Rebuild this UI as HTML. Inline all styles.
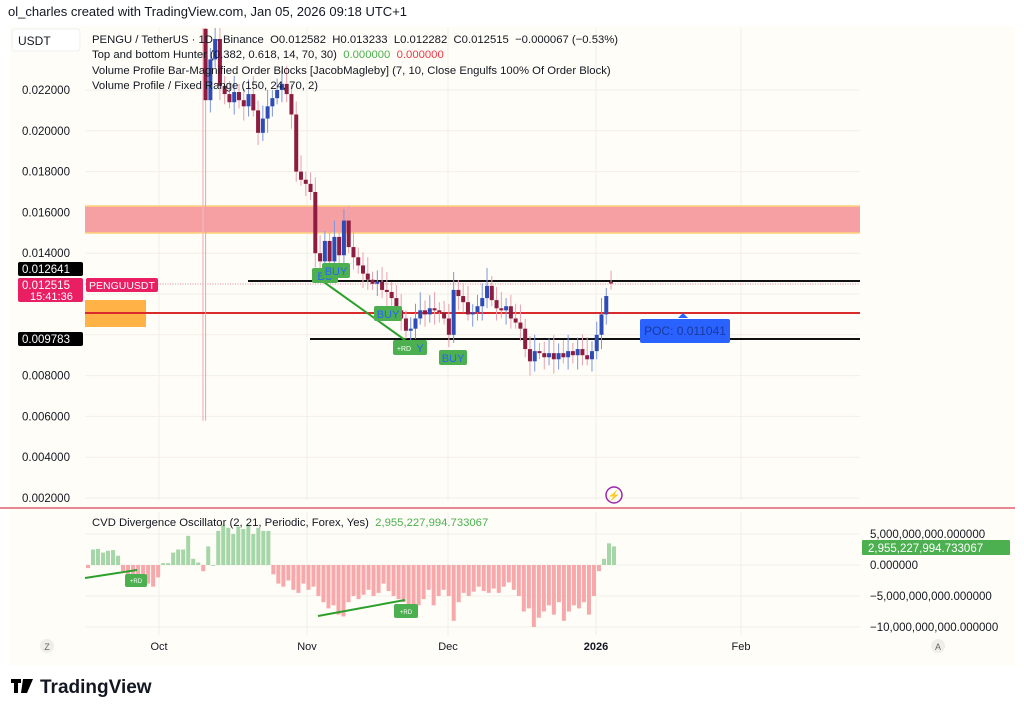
<!DOCTYPE html>
<html><head><meta charset="utf-8">
<style>
html,body{margin:0;padding:0;background:#fff;width:1024px;height:713px;overflow:hidden;font-family:"Liberation Sans",sans-serif;}
svg{position:absolute;left:0;top:0}
svg text{white-space:pre}
</style></head><body>
<svg id="s" width="1024" height="713" xmlns="http://www.w3.org/2000/svg" font-family="Liberation Sans, sans-serif">
<rect x="10" y="26" width="1005" height="640" fill="#fffdf7"/>
<g id="grid" stroke="#f1efe8" stroke-width="1"></g>
<rect x="85" y="206" width="775" height="27" fill="#f7a0a3"/>
<line x1="85" y1="206" x2="860" y2="206" stroke="#ffd27a" stroke-width="1.5"/>
<line x1="85" y1="233" x2="860" y2="233" stroke="#ffd27a" stroke-width="1.5"/>
<rect x="85" y="300" width="61" height="27" fill="#ffb347"/>
<line x1="203" y1="28" x2="203" y2="421" stroke="#f2b6c0" stroke-width="1.2"/>
<line x1="85" y1="284" x2="860" y2="284" stroke="#e58aa5" stroke-width="1" stroke-dasharray="1,1.5"/>
<line x1="248" y1="281" x2="860" y2="281" stroke="#111" stroke-width="2"/>
<line x1="85" y1="313" x2="860" y2="313" stroke="#d92b2b" stroke-width="2"/>
<line x1="310" y1="339" x2="860" y2="339" stroke="#111" stroke-width="2"/>
<g id="candles"></g>
<line x1="314" y1="275" x2="405" y2="340" stroke="#2ca02c" stroke-width="2"/>
<g font-size="11" text-anchor="middle">
<rect x="312" y="268" width="26" height="15" rx="2" fill="#4caf50"/><text x="325" y="280" fill="#2962ff">BU</text>
<rect x="322" y="263" width="28" height="15" rx="2" fill="#4caf50"/><text x="336" y="275" fill="#2962ff">BUY</text>
<rect x="374" y="306" width="28" height="15" rx="2" fill="#4caf50"/><text x="388" y="318" fill="#2962ff">BUY</text>
<rect x="393" y="340" width="34" height="15" rx="2" fill="#4caf50"/><text x="404" y="351" fill="#fff" font-size="7">+RD</text><text x="420" y="352" fill="#2962ff">Y</text>
<rect x="439" y="350" width="28" height="15" rx="2" fill="#4caf50"/><text x="453" y="362" fill="#2962ff">BUY</text>
</g>
<polygon points="678,318 683,313 688,318" fill="#2962ff"/>
<rect x="640" y="319" width="90" height="24" rx="2" fill="#2962ff"/>
<text x="685" y="335" font-size="12" fill="#1a3a9e" text-anchor="middle">POC: 0.011041</text>
<circle cx="614" cy="495" r="8" fill="none" stroke="#9c27b0" stroke-width="1.5"/>
<text x="614" y="499" font-size="10" fill="#9c27b0" text-anchor="middle">⚡</text>
<g font-size="11.5" fill="#131722" id="pax"></g>
<rect x="18" y="262" width="65" height="14" rx="2" fill="#000"/><text x="22" y="273" font-size="11.5" fill="#fff">0.012641</text>
<rect x="18" y="278" width="65" height="24" rx="2" fill="#e91e63"/><text x="22" y="289" font-size="11.5" fill="#fff">0.012515</text><text x="30" y="300" font-size="11" fill="#fff">15:41:36</text>
<rect x="86" y="278" width="72" height="14" rx="2" fill="#e91e63"/><text x="89" y="289" font-size="10.5" fill="#fff">PENGUUSDT</text>
<rect x="18" y="332" width="65" height="14" rx="2" fill="#000"/><text x="22" y="343" font-size="11.5" fill="#fff">0.009783</text>
<text x="8" y="16" font-size="13" fill="#131722">ol_charles created with TradingView.com, Jan 05, 2026 09:18 UTC+1</text>
<rect x="12" y="29" width="68" height="22" rx="3" fill="#fff" stroke="#eee"/>
<text x="18" y="45" font-size="12" fill="#131722">USDT</text>
<g font-size="11.3" fill="#131722">
<text x="92" y="43">PENGU / TetherUS · 1D · Binance  O0.012582  H0.013233  L0.012282  C0.012515  −0.000067 (−0.53%)</text>
<text x="92" y="58">Top and bottom Hunter (0.382, 0.618, 14, 70, 30)  <tspan fill="#4caf50">0.000000</tspan>  <tspan fill="#f23645">0.000000</tspan></text>
<text x="92" y="74">Volume Profile Bar-Magnified Order Blocks [JacobMagleby] (7, 10, Close Engulfs 100% Of Order Block)</text>
<text x="92" y="89">Volume Profile / Fixed Range (150, 24, 70, 2)</text>
</g>
<line x1="0" y1="508" x2="1015" y2="508" stroke="#e06070" stroke-width="1.5"/>
<g id="osc"></g>
<line x1="85" y1="578" x2="137" y2="570" stroke="#2ca02c" stroke-width="2"/>
<rect x="125" y="574" width="22" height="13" rx="2" fill="#4caf50"/><text x="136" y="583" font-size="6" fill="#fff" text-anchor="middle">+RD</text>
<line x1="318" y1="616" x2="405" y2="600" stroke="#2ca02c" stroke-width="2"/>
<rect x="394" y="604" width="24" height="14" rx="2" fill="#4caf50"/><text x="406" y="614" font-size="6" fill="#fff" text-anchor="middle">+RD</text>
<text x="92" y="526" font-size="11.3" fill="#131722">CVD Divergence Oscillator (2, 21, Periodic, Forex, Yes)  <tspan fill="#4caf50">2,955,227,994.733067</tspan></text>
<g font-size="11.5" fill="#131722">
<text x="870" y="538">5,000,000,000.000000</text>
<text x="870" y="569">0.000000</text>
<text x="870" y="600">−5,000,000,000.000000</text>
<text x="870" y="631">−10,000,000,000.000000</text>
</g>
<rect x="862" y="540" width="148" height="15" rx="1" fill="#4caf50"/><text x="868" y="552" font-size="11.5" fill="#fff">2,955,227,994.733067</text>
<g font-size="11" fill="#131722" text-anchor="middle">
<circle cx="47" cy="646" r="7" fill="#f0eee8"/><text x="47" y="650" font-size="9" fill="#666">Z</text>
<text x="159" y="650">Oct</text><text x="307" y="650">Nov</text><text x="448" y="650">Dec</text>
<text x="596" y="650" font-weight="bold">2026</text><text x="741" y="650">Feb</text>
<circle cx="938" cy="646" r="7" fill="#f0eee8"/><text x="938" y="650" font-size="9" fill="#666">A</text>
</g>
<rect x="11" y="679" width="10" height="4" fill="#000"/><rect x="14" y="679" width="4" height="14" fill="#000"/>
<polygon points="23,679 33,679 27,693 21,693" fill="#000"/>
<text x="40" y="693" font-size="19" font-weight="bold" fill="#131722">TradingView</text>
</svg>
<script>
var NS="http://www.w3.org/2000/svg";
function el(p,t,a){var e=document.createElementNS(NS,t);for(var k in a)e.setAttribute(k,a[k]);p.appendChild(e);return e;}
function Y(p){return 90+(0.022-p)*20400;}
var g=document.getElementById('grid');
for(var v=0.022;v>0.0015;v-=0.002){el(g,'line',{x1:85,x2:860,y1:Y(v),y2:Y(v)});}
[159,307,448,596,741].forEach(function(x){el(g,'line',{x1:x,x2:x,y1:28,y2:500});el(g,'line',{x1:x,x2:x,y1:512,y2:635});});
[534,565,596,627].forEach(function(y){el(g,'line',{x1:85,x2:860,y1:y,y2:y});});
var pax=document.getElementById('pax');
[0.022,0.020,0.018,0.016,0.014,0.008,0.006,0.004,0.002].forEach(function(v){var t=el(pax,'text',{x:22,y:Y(v)+4});t.textContent=v.toFixed(6);});
var c=[0.0215,0.0235,0.0245,0.0222,0.0218,0.0214,0.0219,0.0215,0.0212,0.0218,0.0210,0.0199,0.0206,0.0212,0.0216,0.0220,0.0223,0.0218,0.0208,0.0180,0.0176,0.0174,0.0170,0.0140,0.0136,0.0146,0.0136,0.0148,0.0139,0.0156,0.0143,0.0138,0.0134,0.0130,0.0127,0.0125,0.0126,0.0122,0.0121,0.0118,0.0112,0.0108,0.0102,0.0103,0.0108,0.0112,0.0110,0.0113,0.0112,0.0111,0.0108,0.0100,0.0122,0.0119,0.0116,0.0110,0.0111,0.0114,0.0118,0.0124,0.0117,0.0113,0.0112,0.0114,0.0108,0.0106,0.0103,0.0093,0.0087,0.0092,0.0091,0.0089,0.0091,0.0088,0.0091,0.0089,0.0092,0.0090,0.0093,0.0090,0.0088,0.0092,0.0100,0.0110,0.0119,0.012515];
var cg=document.getElementById('candles');
var prev=0.025;
for(var i=0;i<c.length;i++){
 var o=(i==85)?0.012582:prev, cl=c[i], x=205.6+i*4.77;
 var up=cl>=o, col=up?'#2e4cb8':'#8c1c40', wc=up?'#7d95e0':'#e8a0b0';
 var hi=Math.max(o,cl)+0.0004+((i*37)%7)*0.00008, lo=Math.min(o,cl)-0.0003-((i*53)%5)*0.0001;
 if(i==0){hi=0.03;lo=0.0058;}
 el(cg,'line',{x1:x,x2:x,y1:Math.max(28,Y(hi)),y2:Y(lo),stroke:wc,'stroke-width':1});
 var y1=Math.max(28,Y(Math.max(o,cl))),y2=Y(Math.min(o,cl));
 el(cg,'rect',{x:x-2,y:y1,width:4,height:Math.max(1,y2-y1),fill:col});
 prev=cl;
}
var os=[-0.5,2.5,2.6,2.0,2.3,2.4,1.5,-1,-1.5,-2,-2.5,-2.2,-3,-3.5,-2,0.3,0.3,2,2.5,2.5,4.7,1,0.4,-1,3,0,5.5,6.5,6,5,6.2,5.8,6.5,5,6,5.5,5.5,-1.5,-3,-3.5,-2.5,-4,-4.5,-3,-4,-3.5,-5,-6,-7,-6.5,-8,-8.3,-6,-5,-5.5,-4.8,-4,-5,-4.5,-3,-4.2,-5,-5.5,-6,-6.5,-7,-6.5,-5.5,-4,-6.5,-5,-4,-5,-9,-6,-4.5,-5,-4.3,-3.5,-4.2,-4.5,-3.8,-4.5,-3.5,-2.8,-4,-5,-7.5,-7,-10,-8.5,-7.5,-6.5,-8,-6,-9,-7.5,-6.5,-7,-6,-8,-5,-1,1,3.5,3];
var og=document.getElementById('osc');
var st=526/(os.length-1);
for(var j=0;j<os.length;j++){
 var x=88+j*st, v=os[j], h=Math.abs(v)*6.2, y=v>=0?565-h:565;
 el(og,'rect',{x:x-2,y:y,width:4,height:Math.max(0.8,h),fill:v>=0?'#a5d6a7':'#f7a8aa'});
}
</script>
</body></html>
